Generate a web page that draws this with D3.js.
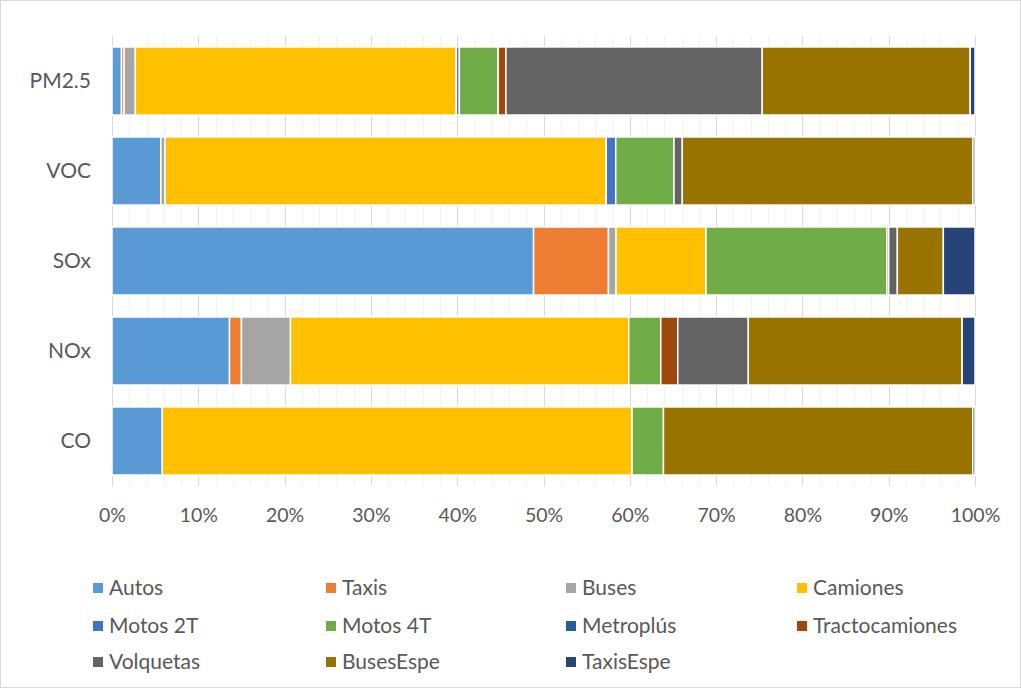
<!DOCTYPE html>
<html><head><meta charset="utf-8">
<script src="https://cdn.jsdelivr.net/npm/d3@7"></script>
<style>
html,body{margin:0;padding:0;background:#fff;}
svg{display:block;}
text{font-family:"Lato","Open Sans",sans-serif;fill:#595959;}
</style></head>
<body>
<svg id="chart" width="1021" height="688"></svg>
<script>
const categories = ["PM2.5", "VOC", "SOx", "NOx", "CO"];
const seriesNames = ["Autos", "Taxis", "Buses", "Camiones", "Motos 2T", "Motos 4T", "Metroplús", "Tractocamiones", "Volquetas", "BusesEspe", "TaxisEspe"];
// shares (%) per category, in the order of `categories`
const autos          = [1.1, 5.65, 48.85, 13.62, 5.83];
const taxis          = [0.3, 0, 8.68, 1.38, 0];
const buses          = [1.3, 0.5, 0.88, 5.68, 0];
const camiones       = [37.2, 51.09, 10.42, 39.2, 54.43];
const motos2T        = [0.35, 1.1, 0, 0, 0];
const motos4T        = [4.5, 6.75, 20.97, 3.71, 3.64];
const metroplus      = [0, 0, 0, 0, 0];
const tractocamiones = [0.9, 0, 0.2, 1.97, 0];
const volquetas      = [29.7, 0.96, 1.0, 8.17, 0];
const busesEspe      = [24.1, 33.66, 5.33, 24.78, 35.85];
const taxisEspe      = [0.56, 0.24, 3.67, 1.49, 0.25];
const tickLabels = ["0%", "10%", "20%", "30%", "40%", "50%", "60%", "70%", "80%", "90%", "100%"];
const colors = ["#5B9BD5", "#ED7D31", "#A5A5A5", "#FFC000", "#4472C4", "#70AD47", "#255E91", "#9E480E", "#636363", "#997300", "#264478"];

const seriesValues = [autos, taxis, buses, camiones, motos2T, motos4T, metroplus, tractocamiones, volquetas, busesEspe, taxisEspe];
const table = categories.map((c, i) => {
  const row = {category: c};
  seriesNames.forEach((s, j) => row[s] = seriesValues[j][i]);
  return row;
});

const svg = d3.select("#chart");
svg.append("rect").attr("x", 0.5).attr("y", 0.5).attr("width", 1020).attr("height", 687)
  .attr("fill", "#fff").attr("stroke", "#D9D9D9");

const x = d3.scaleLinear().domain([0, 1]).range([112, 975]);
const y = d3.scaleBand().domain(categories).range([36, 486]).paddingInner(0.244).paddingOuter(0.122);

// minor gridlines
svg.append("g").selectAll("line").data(d3.range(0, 1.0001, 0.02)).join("line")
  .attr("x1", d => Math.round(x(d)) + 0.5).attr("x2", d => Math.round(x(d)) + 0.5)
  .attr("y1", 36).attr("y2", 486).attr("stroke", "#F2F2F2").attr("stroke-width", 1);
// major gridlines
svg.append("g").selectAll("line").data(d3.range(0, 1.0001, 0.1)).join("line")
  .attr("x1", d => Math.round(x(d)) + 0.5).attr("x2", d => Math.round(x(d)) + 0.5)
  .attr("y1", 36).attr("y2", 486).attr("stroke", "#D9D9D9").attr("stroke-width", 1);

const stack = d3.stack().keys(seriesNames).offset(d3.stackOffsetExpand);
const stacked = stack(table);

svg.append("g").selectAll("g").data(stacked).join("g")
  .attr("fill", (d, i) => colors[i])
  .selectAll("rect").data(d => d).join("rect")
  .attr("x", d => x(d[0]))
  .attr("y", d => y(d.data.category))
  .attr("width", d => Math.max(0, x(d[1]) - x(d[0])))
  .attr("height", y.bandwidth())
  .attr("stroke", "#fff").attr("stroke-width", 1.5);

// x axis labels
const xAxis = d3.axisBottom(x).tickValues(d3.range(0, 1.0001, 0.1))
  .tickFormat((d, i) => tickLabels[i]).tickSize(0).tickPadding(0);
const gx = svg.append("g").attr("transform", "translate(0,508)").call(xAxis);
gx.select(".domain").remove();
gx.selectAll("text").attr("font-size", 19.5).attr("font-family", "Lato").attr("fill", "#595959");

// y axis labels
const yAxis = d3.axisLeft(y).tickSize(0).tickPadding(0);
const gy = svg.append("g").attr("transform", "translate(91,0)").call(yAxis);
gy.select(".domain").remove();
gy.selectAll("text").attr("font-size", 21).attr("font-family", "Lato").attr("fill", "#595959");

// legend
const colX = [93, 326, 566, 797];
const rowY = [588, 626, 662];
const leg = svg.append("g").selectAll("g").data(seriesNames).join("g")
  .attr("transform", (d, i) => `translate(${colX[i % 4]},${rowY[Math.floor(i / 4)]})`);
leg.append("rect").attr("x", 0).attr("y", -5).attr("width", 10).attr("height", 10)
  .attr("fill", (d, i) => colors[i]);
leg.append("text").attr("x", 16).attr("y", 0).attr("dy", "0.35em")
  .attr("font-size", 21).text(d => d);
</script>
</body></html>
